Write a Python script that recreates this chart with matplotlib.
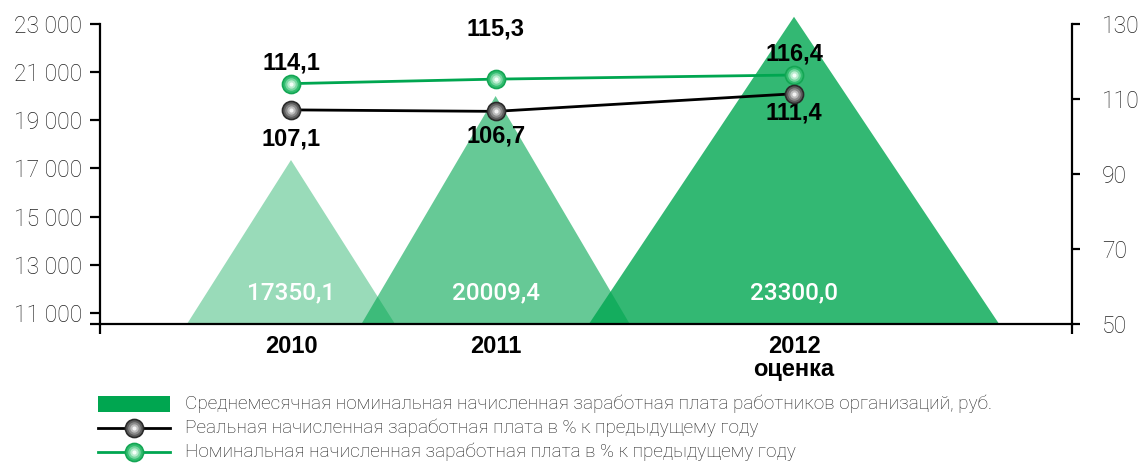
import matplotlib
matplotlib.use('Agg')
import matplotlib.pyplot as plt
from matplotlib.patches import Polygon, Rectangle
from matplotlib.transforms import blended_transform_factory

# Данные
years = ['2010', '2011', '2012\nоценка']
salary = [17350.1, 20009.4, 23300.0]
real_pct = [107.1, 106.7, 111.4]
nominal_pct = [114.1, 115.3, 116.4]

salary_labels = ['17350,1', '20009,4', '23300,0']
real_labels = ['107,1', '106,7', '111,4']
nominal_labels = ['114,1', '115,3', '116,4']

legend_texts = [
    'Среднемесячная номинальная начисленная заработная плата работников организаций, руб.',
    'Реальная начисленная заработная плата в % к предыдущему году',
    'Номинальная начисленная заработная плата в % к предыдущему году',
]

# Расположение (доли оси X) и оформление
x_pos = [0.1965, 0.407, 0.714]
half_w = [0.107, 0.138, 0.211]
tri_alpha = [0.4, 0.6, 0.8]
GREEN = '#00a650'
real_off = [-21, -18, -14]
nom_off = [15, 36, 15]

LIGHT = 'Roboto'
BOLD = 'Liberation Sans'

W, H = 1144, 475
fig = plt.figure(figsize=(W / 100, H / 100), dpi=100)
ax = fig.add_axes([100 / W, 151 / H, 972 / W, 300 / H])
ax2 = ax.twinx()

y0, y1 = 10540, 23000
ax.set_xlim(0, 1)
ax.set_ylim(y0, y1)
ax2.set_ylim(50, 130)

# Треугольники
for x, hw, v, a in zip(x_pos, half_w, salary, tri_alpha):
    tri = Polygon([(x - hw, y0), (x, v), (x + hw, y0)], closed=True,
                  facecolor=GREEN, alpha=a, edgecolor='none', clip_on=False, zorder=1)
    ax.add_patch(tri)

tr = blended_transform_factory(ax.transData, ax.transAxes)
for x, s in zip(x_pos, salary_labels):
    ax.text(x, 0.103, s, transform=tr, ha='center', va='center', color='white',
            fontsize=17.5, fontweight='medium', family=LIGHT, zorder=3)

# Линии
def sphere(axis, xs, ys, line_color, edge, shades, lw):
    axis.plot(xs, ys, color=line_color, lw=lw, zorder=4, clip_on=False)
    axis.plot(xs, ys, 'o', ms=13, mfc=shades[0], mec=edge, mew=1.2, zorder=5, clip_on=False)
    for ms, c in zip([9, 6, 3], shades[1:]):
        axis.plot(xs, ys, 'o', ms=ms, mfc=c, mec='none', zorder=6, clip_on=False)

grey_shades = ['#5e5e5e', '#8a8a8a', '#bdbdbd', '#f2f2f2']
green_shades = ['#33bd70', '#77d6a0', '#b9ecce', '#f4fff8']
sphere(ax2, x_pos, nominal_pct, GREEN, '#14a654', green_shades, 2.0)
sphere(ax2, x_pos, real_pct, 'black', '#2a2a2a', grey_shades, 2.0)

for x, v, s, o in zip(x_pos, nominal_pct, nominal_labels, nom_off):
    ax2.annotate(s, (x, v), xytext=(0, o), textcoords='offset points', ha='center',
                 va='center', fontsize=17, fontweight='bold', family=BOLD)
for x, v, s, o in zip(x_pos, real_pct, real_labels, real_off):
    ax2.annotate(s, (x, v), xytext=(0, o), textcoords='offset points', ha='center',
                 va='center', fontsize=17, fontweight='bold', family=BOLD)

# Оси
for a in (ax, ax2):
    a.spines['top'].set_visible(False)
    for sp in a.spines.values():
        sp.set_linewidth(1.6)
ax.spines['right'].set_visible(False)
ax2.spines['left'].set_visible(False)
ax2.spines['bottom'].set_visible(False)

ax.set_yticks(range(11000, 23001, 2000))
ax.set_yticklabels([f'{v // 1000} 000' for v in range(11000, 23001, 2000)],
                   fontsize=16.5, family=LIGHT, fontweight='light', color='#222222')
ax.set_yticks([y0], minor=True)
ax.tick_params(axis='y', which='both', direction='out', length=7, width=1.6, pad=6)

ax2.set_yticks([50, 70, 90, 110, 130])
ax2.set_yticklabels(['50', '70', '90', '110', '130'], fontsize=16.5, family=LIGHT,
                    fontweight='light', color='#222222')
ax2.tick_params(axis='y', direction='out', length=5.5, width=1.6, pad=16)

ax.set_xticks(x_pos)
ax.set_xticklabels(years, fontsize=17, fontweight='bold', family=BOLD, linespacing=1.0)
ax.tick_params(axis='x', which='major', length=0, pad=8)
ax.set_xticks([0, 1], minor=True)
ax.tick_params(axis='x', which='minor', direction='out', length=7, width=1.6)

# Легенда
lax = fig.add_axes([0, 0, 1, 1], zorder=-1)
lax.set_xlim(0, W)
lax.set_ylim(H, 0)
lax.axis('off')
lax.add_patch(Rectangle((98, 396), 72, 16, facecolor=GREEN, edgecolor='none'))
lax.plot([98, 170], [428, 428], color='black', lw=2)
lax.plot([98, 170], [452, 452], color=GREEN, lw=2)
for yy, edge, shades in [(428, '#2a2a2a', grey_shades), (452, '#14a654', green_shades)]:
    lax.plot([134], [yy], 'o', ms=13, mfc=shades[0], mec=edge, mew=1.2)
    for ms, c in zip([9, 6, 3], shades[1:]):
        lax.plot([134], [yy], 'o', ms=ms, mfc=c, mec='none')
for yy, t in zip([404, 428, 452], legend_texts):
    lax.text(185, yy, t, ha='left', va='center', fontsize=13.7, family=LIGHT,
             fontweight='light', color='#222222')

fig.savefig('out.png', dpi=100)
